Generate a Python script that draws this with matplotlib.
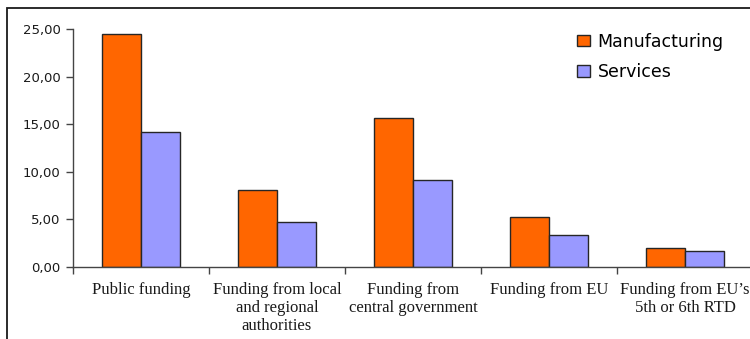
import matplotlib
matplotlib.use("Agg")
import matplotlib.pyplot as plt
import numpy as np
from matplotlib.patches import Rectangle
from matplotlib.ticker import FuncFormatter, FixedLocator

categories = [
    "Public funding",
    "Funding from local\nand regional\nauthorities",
    "Funding from\ncentral government",
    "Funding from EU",
    "Funding from EU\u2019s\n5th or 6th RTD",
]
manufacturing = [24.45, 8.10, 15.70, 5.25, 1.95]
services = [14.20, 4.70, 9.10, 3.40, 1.65]

ORANGE = "#FF6600"
LAVENDER = "#9999FF"
EDGE = "#262626"

fig = plt.figure(figsize=(7.5, 3.39), dpi=100)

# outer frame around the chart area
fig.patches.append(Rectangle((7 / 750, -0.2), 1.2, 1.2 - 8 / 339,
                             transform=fig.transFigure, fill=False,
                             edgecolor="#1a1a1a", linewidth=1.3))

ax = fig.add_axes([73 / 750, 72 / 339, 680 / 750, 238 / 339])

x = np.arange(len(categories))
w = 0.287
ax.bar(x - w / 2, manufacturing, w, color=ORANGE, edgecolor=EDGE,
       linewidth=1.0, label="Manufacturing")
ax.bar(x + w / 2, services, w, color=LAVENDER, edgecolor=EDGE,
       linewidth=1.0, label="Services")

ax.set_xlim(-0.5, len(categories) - 0.5)
ax.set_ylim(0, 25)
ax.set_yticks(np.arange(0, 26, 5))
ax.yaxis.set_major_formatter(FuncFormatter(lambda v, _: f"{v:.2f}".replace(".", ",")))
ax.tick_params(axis="y", length=5, width=1.0, color="#444444", pad=4,
               labelsize=9.5, labelcolor="#1a1a1a")
for lbl in ax.get_yticklabels():
    lbl.set_fontfamily("DejaVu Sans")

ax.set_xticks(x)
ax.set_xticklabels(categories, fontfamily="Liberation Serif", fontsize=12,
                   linespacing=1.17, color="#1a1a1a")
ax.tick_params(axis="x", which="major", length=0, pad=11)
ax.xaxis.set_minor_locator(FixedLocator(np.arange(-0.5, len(categories), 1.0)))
ax.tick_params(axis="x", which="minor", length=5, width=1.0, color="#444444")

for side in ("top", "right"):
    ax.spines[side].set_visible(False)
for side in ("left", "bottom"):
    ax.spines[side].set_color("#444444")
    ax.spines[side].set_linewidth(1.0)

ax.legend(loc="upper left", bbox_to_anchor=(561 / 750, 1 - 17 / 339),
          bbox_transform=fig.transFigure, frameon=False,
          prop={"family": "DejaVu Sans", "size": 12.5},
          handlelength=0.75, handleheight=0.65, handletextpad=0.45,
          labelspacing=0.72)

fig.savefig("out.png", dpi=100)
